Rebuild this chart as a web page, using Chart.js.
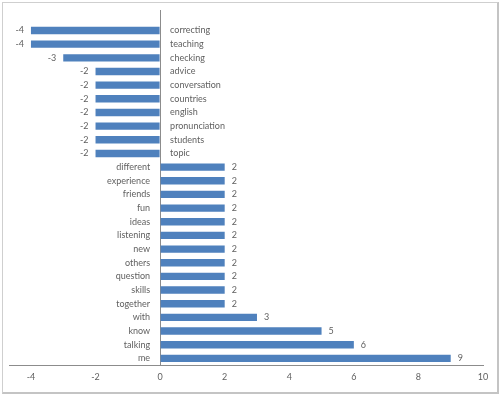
<!DOCTYPE html>
<html>
<head>
<meta charset="utf-8">
<script src="https://cdn.jsdelivr.net/npm/chart.js@4/dist/chart.umd.min.js"></script>
<style>
  html, body { margin: 0; padding: 0; background: #fff; }
  #wrap { position: relative; width: 500px; height: 395px; }
  #frame { position: absolute; left: 2px; top: 2px; width: 494px; height: 389px; border: 1px solid #cfcfcf; border-right: 2px solid #c4c4c4; border-bottom: 2px solid #c4c4c4; pointer-events: none; }
  canvas { position: absolute; left: 0; top: 0; }
</style>
</head>
<body>
<div id="wrap">
  <canvas id="c" width="500" height="395"></canvas>
  <div id="frame"></div>
</div>
<script>
const categories = ['correcting','teaching','checking','advice','conversation','countries','english','pronunciation','students','topic','different','experience','friends','fun','ideas','listening','new','others','question','skills','together','with','know','talking','me'];
const values = [-4,-4,-3,-2,-2,-2,-2,-2,-2,-2,2,2,2,2,2,2,2,2,2,2,2,3,5,6,9];
const xTicks = [-4,-2,0,2,4,6,8,10];

// leading empty slot keeps the space above the first bar, as in the reference
const labels = [''].concat(categories);
const data = [null].concat(values);

const FONT = 'Lato, "Open Sans", sans-serif';
const TEXT = '#5f5f5f';

const barLabels = {
  id: 'barLabels',
  afterDatasetsDraw(chart) {
    const ctx = chart.ctx;
    const meta = chart.getDatasetMeta(0);
    const x0 = chart.scales.x.getPixelForValue(0);
    ctx.save();
    ctx.font = '9px ' + FONT;
    ctx.fillStyle = TEXT;
    ctx.textBaseline = 'middle';
    meta.data.forEach((bar, i) => {
      const v = data[i];
      if (v === null) return;
      const y = bar.y;
      if (v < 0) {
        ctx.textAlign = 'left';
        ctx.fillText(labels[i], x0 + 10, y);
        ctx.textAlign = 'right';
        ctx.fillText(String(v), bar.x - 7, y);
      } else {
        ctx.textAlign = 'right';
        ctx.fillText(labels[i], x0 - 10, y);
        ctx.textAlign = 'left';
        ctx.fillText(String(v), bar.x + 7, y);
      }
    });
    ctx.restore();
  }
};

new Chart(document.getElementById('c'), {
  type: 'bar',
  data: {
    labels: labels,
    datasets: [{
      data: data,
      backgroundColor: '#4F81BD',
      borderWidth: 0,
      barPercentage: 0.54,
      categoryPercentage: 1.0
    }]
  },
  options: {
    indexAxis: 'y',
    responsive: false,
    animation: false,
    layout: { padding: { left: 9, right: 17, top: 10, bottom: 7 } },
    plugins: { legend: { display: false }, tooltip: { enabled: false } },
    scales: {
      x: {
        type: 'linear',
        min: -4.68,
        max: 10,
        afterBuildTicks(scale) { scale.ticks = xTicks.map(v => ({ value: v })); },
        ticks: {
          includeBounds: false,
          padding: 6,
          color: TEXT,
          font: { family: FONT, size: 9 }
        },
        grid: {
          drawTicks: false,
          lineWidth: 1,
          color: (c) => (c.tick && c.tick.value === 0) ? '#8c8c8c' : 'rgba(0,0,0,0)'
        },
        border: { display: true, color: '#8c8c8c', width: 1 }
      },
      y: {
        display: false,
        grid: { display: false }
      }
    }
  },
  plugins: [barLabels]
});
</script>
</body>
</html>
